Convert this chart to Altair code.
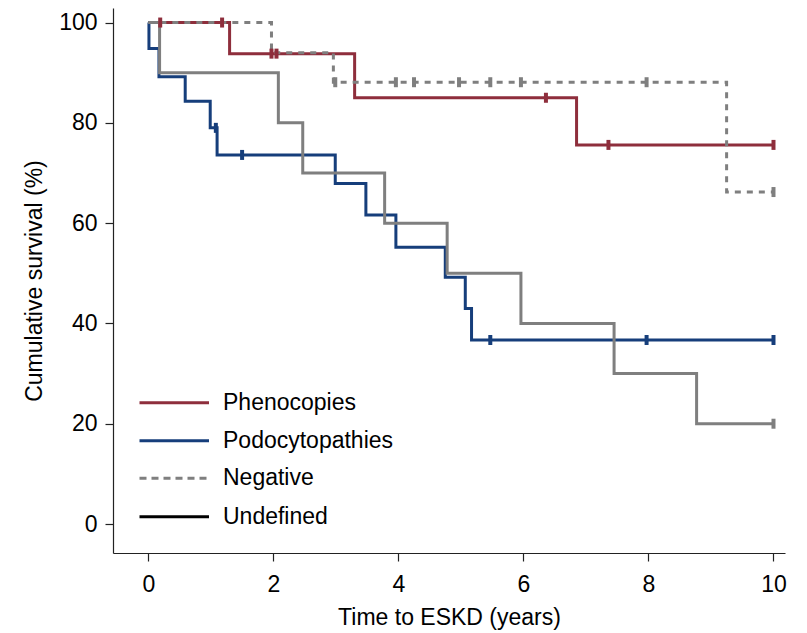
import altair as alt
import pandas as pd

# ---- data ----
follow_up_end = 10.0

phen_times = [0.0, 1.30, 3.30, 6.85]
phen_surv = [100.0, 93.8, 85.0, 75.6]
phen_censor = [0.19, 1.18, 1.97, 2.05, 6.36, 7.36, 10.0]

podo_times = [0.0, 0.01, 0.17, 0.59, 0.99, 1.10, 2.99, 3.48, 3.96, 4.75, 5.07, 5.17]
podo_surv = [100.0, 94.8, 89.2, 84.3, 79.0, 73.6, 67.9, 61.6, 55.2, 49.2, 43.0, 36.7]
podo_censor = [1.08, 1.50, 5.47, 7.97, 10.0]

neg_times = [0.0, 1.97, 2.96, 9.25]
neg_surv = [100.0, 94.0, 88.1, 66.2]
neg_censor = [2.99, 3.96, 4.25, 4.97, 5.47, 5.96, 7.97, 10.0]

und_times = [0.0, 0.18, 2.08, 2.47, 3.78, 4.78, 5.96, 7.45, 8.77]
und_surv = [100.0, 90.0, 80.0, 70.0, 60.0, 50.0, 40.0, 30.0, 20.0]
und_censor = [10.0]

x_ticks = [0, 2, 4, 6, 8, 10]
y_ticks = [0, 20, 40, 60, 80, 100]

legend_labels = ["Phenocopies", "Podocytopathies", "Negative", "Undefined"]

# ---- styling ----
RED = "#8E2E3C"
BLUE = "#163E7B"
GRAY = "#7F7F7F"
FONT = "Liberation Sans"

X_DOMAIN = [-0.565, 10.184]
Y_DOMAIN = [-5.78, 102.9]


def step_df(times, surv):
    t = list(times) + [follow_up_end]
    s = list(surv) + [surv[-1]]
    return pd.DataFrame({"t": t, "s": s, "o": list(range(len(t)))})


def censor_df(times, surv, cens):
    vals = []
    for c in cens:
        v = surv[0]
        for tt, ss in zip(times, surv):
            if tt <= c + 1e-9:
                v = ss
        vals.append(v)
    return pd.DataFrame({"t": cens, "s": vals})


xs = alt.Scale(domain=X_DOMAIN, nice=False, zero=False)
ys = alt.Scale(domain=Y_DOMAIN, nice=False, zero=False)

x_axis = alt.Axis(values=x_ticks, title="Time to ESKD (years)", grid=False,
                  labelFontSize=23, titleFontSize=23, labelFont=FONT, titleFont=FONT,
                  titleFontWeight="normal", labelColor="black", titleColor="black",
                  domainColor="#222222", tickColor="#222222", tickSize=8,
                  domainWidth=1.2, tickWidth=1.2, labelPadding=12, titlePadding=10,
                  format="d", labelFlush=False)
y_axis = alt.Axis(values=y_ticks, title="Cumulative survival (%)", grid=False,
                  labelFontSize=23, titleFontSize=23, labelFont=FONT, titleFont=FONT,
                  titleFontWeight="normal", labelColor="black", titleColor="black",
                  domainColor="#222222", tickColor="#222222", tickSize=8,
                  domainWidth=1.2, tickWidth=1.2, labelPadding=8, titlePadding=12,
                  format="d", labelFlush=False)

X = alt.X("t:Q", scale=xs, axis=x_axis)
Y = alt.Y("s:Q", scale=ys, axis=y_axis)


def curve(times, surv, color, dash=None):
    kw = dict(interpolate="step-after", color=color, strokeWidth=3)
    if dash:
        kw["strokeDash"] = dash
    return alt.Chart(step_df(times, surv)).mark_line(**kw).encode(x=X, y=Y, order="o:Q")


def ticks(times, surv, cens, color):
    return alt.Chart(censor_df(times, surv, cens)).mark_tick(
        color=color, orient="vertical", size=10, thickness=4, opacity=1
    ).encode(x=X, y=Y)


layers = [
    curve(phen_times, phen_surv, RED),
    curve(podo_times, podo_surv, BLUE),
    curve(und_times, und_surv, GRAY),
    curve(neg_times, neg_surv, GRAY, dash=[6, 6]),
    ticks(phen_times, phen_surv, phen_censor, RED),
    ticks(podo_times, podo_surv, podo_censor, BLUE),
    ticks(neg_times, neg_surv, neg_censor, GRAY),
    ticks(und_times, und_surv, und_censor, GRAY),
]

# ---- legend (drawn manually, like the reference) ----
leg_colors = [RED, BLUE, GRAY, "black"]
leg_dash = [None, None, [7, 5], None]
leg_line_y = [394.7, 432.7, 470.3, 508.7]
for lab, col, dsh, ly in zip(legend_labels, leg_colors, leg_dash, leg_line_y):
    kw = dict(color=col, strokeWidth=3)
    if dsh:
        kw["strokeDash"] = dsh
    layers.append(
        alt.Chart(pd.DataFrame({"label": [lab]})).mark_rule(**kw).encode(
            x=alt.value(26.5), x2=alt.value(96), y=alt.value(ly)
        )
    )
    layers.append(
        alt.Chart(pd.DataFrame({"label": [lab]})).mark_text(
            align="left", baseline="middle", font=FONT, fontSize=23, color="black"
        ).encode(x=alt.value(110), y=alt.value(ly), text="label:N")
    )

chart = alt.layer(*layers).properties(
    width=672, height=545,
    padding={"left": 105, "top": 0, "right": 14, "bottom": 80},
    autosize=alt.AutoSizeParams(type="none"),
    background="white",
).configure_view(strokeWidth=0)

chart.save("out.html", embed_options={"renderer": "svg", "actions": False})
